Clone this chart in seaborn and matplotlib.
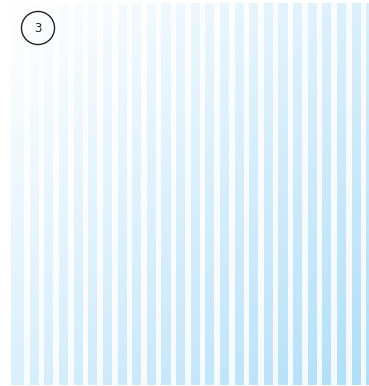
# ======================================================
# STRIPED GRADIENT PANEL
# ======================================================

import numpy as np
import pandas as pd
import seaborn as sns
import matplotlib.pyplot as plt

# ======================================================
# Data
# ======================================================

stripe_ids = list(range(24))
stripe_heights = [1.0] * 24
panel_label = "3"

df = pd.DataFrame({"stripe": stripe_ids, "height": stripe_heights})

# ======================================================
# Figure
# ======================================================

sns.set_theme(style="white")

fig = plt.figure(figsize=(3.69, 3.86), dpi=100)
ax = fig.add_axes([11/369, 1/386, 357/369, 382/386])

# white stripes
sns.barplot(data=df, x="stripe", y="height", color="white",
            width=0.38, alpha=0.85, saturation=1, ax=ax, zorder=3)

for p in ax.patches:
    p.set_linewidth(0)

xmin, xmax = -1.094, 23.31

# background gradient: white top-left -> light blue bottom-right
gx = np.linspace(0, 1, 200)
gy = np.linspace(0, 1, 200)
GX, GY = np.meshgrid(gx, gy)
t = np.clip((GX + GY) / 2, 0, 1) ** 1.1
white = np.array([1.0, 1.0, 1.0])
blue = np.array([176, 222, 248]) / 255
img = white[None, None, :] * (1 - t[..., None]) + blue[None, None, :] * t[..., None]

ax.imshow(img, extent=[xmin, xmax, 0, 1], origin="upper",
          aspect="auto", zorder=0, interpolation="bilinear")

ax.set_xlim(xmin, xmax)
ax.set_ylim(0, 1)
ax.set_xlabel("")
ax.set_ylabel("")
ax.set_xticks([])
ax.set_yticks([])
for s in ax.spines.values():
    s.set_visible(False)

# circled panel number
fig.text(38/369, 1 - 28/386, panel_label, ha="center", va="center",
         fontsize=8.5, color="#222222",
         bbox=dict(boxstyle="circle,pad=0.85", facecolor="none",
                   edgecolor="#222222", linewidth=1.0))

plt.savefig("out.png", dpi=100)
